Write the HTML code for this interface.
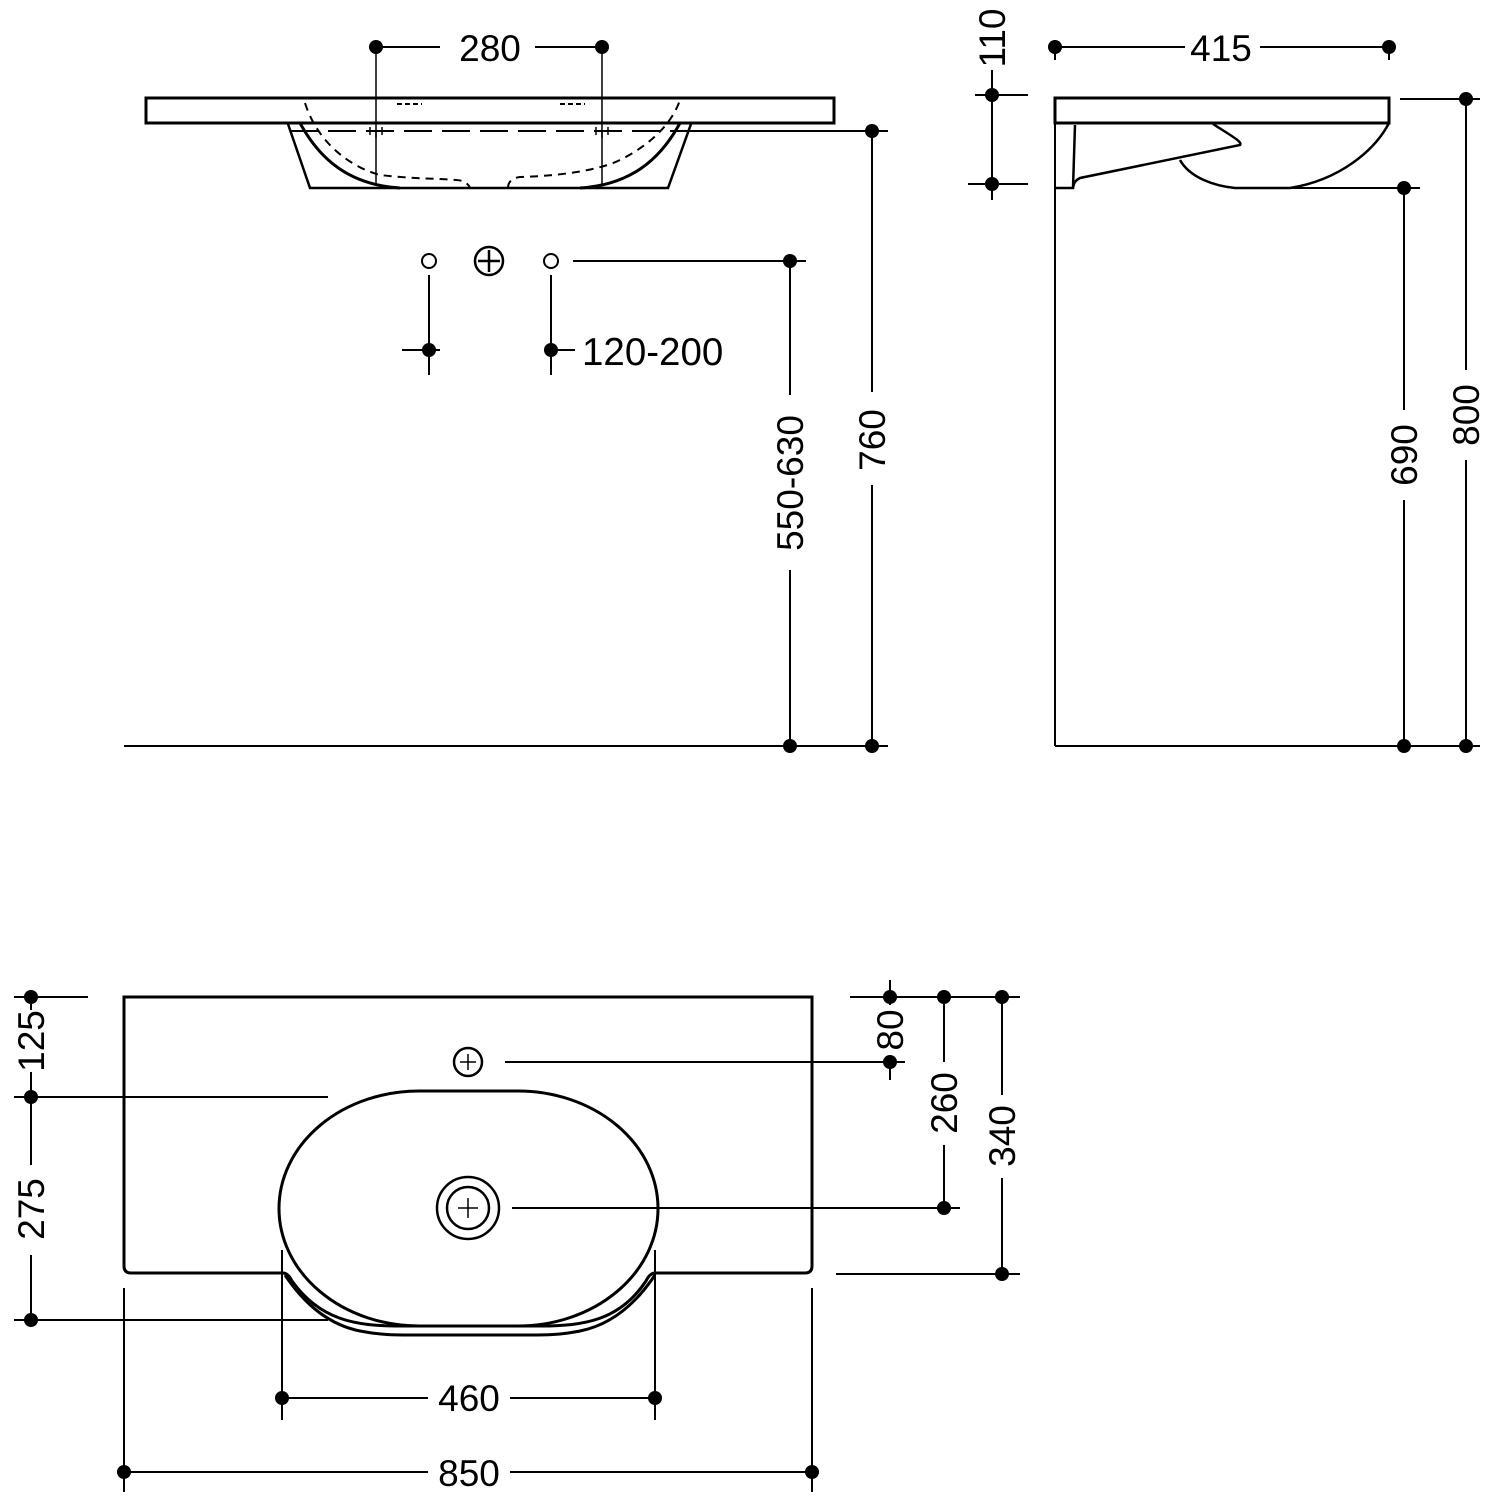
<!DOCTYPE html>
<html><head><style>html,body{margin:0;padding:0;background:#fff}svg{display:block}</style></head>
<body>
<svg width="1500" height="1500" viewBox="0 0 1500 1500" xmlns="http://www.w3.org/2000/svg" font-family="Liberation Sans, Arial, sans-serif" font-size="37" fill="none" stroke="#000">
<g stroke-width="2">
<!-- FRONT VIEW -->
<rect x="146" y="98" width="688" height="25" stroke-width="3"/>
<path d="M288 124 L310 188 L668 188 L691 124" stroke-width="2.5"/>
<path d="M300 123 C320 160 350 185 400 188 M580 188 C630 185 660 160 680 123" stroke-width="3"/>
<path d="M305 103 C320 150 360 170 380 175 C420 180 460 178 465 182 C470 186 470 188 470 188 M508 188 C508 182 512 178 520 177 C560 176 600 170 620 160 C660 140 675 115 680 100" stroke-dasharray="8,6"/>
<line x1="290" y1="131" x2="680" y2="131" stroke-dasharray="28,10"/>
<line x1="680" y1="131" x2="888" y2="131"/>
<line x1="376" y1="40" x2="376" y2="185" stroke-width="1.5"/>
<line x1="602" y1="40" x2="602" y2="185" stroke-width="1.5"/>
<path d="M370 127v8M382 127v8M370 131h12M376 131v7M596 127v8M608 127v8M596 131h12M602 131v7" stroke-width="1.5"/>
<path d="M397 104h25M560 104h25" stroke-dasharray="5,3"/>
<line x1="376" y1="47" x2="440" y2="47"/><line x1="535" y1="47" x2="602" y2="47"/>
<line x1="872" y1="131" x2="872" y2="392"/><line x1="872" y1="485" x2="872" y2="746"/>
<line x1="790" y1="261" x2="790" y2="395"/><line x1="790" y1="570" x2="790" y2="746"/>
<line x1="573" y1="261" x2="806" y2="261"/>
<circle cx="429" cy="261" r="7"/><circle cx="551" cy="261" r="7"/>
<circle cx="489" cy="261" r="14" stroke-width="2.5"/><path d="M478 261h22M489 250v22" stroke-width="2.5"/>
<line x1="429" y1="275" x2="429" y2="375"/><line x1="551" y1="275" x2="551" y2="375"/>
<line x1="402" y1="350" x2="440" y2="350"/><line x1="545" y1="350" x2="575" y2="350"/>
<line x1="124" y1="746" x2="888" y2="746"/>
<!-- SIDE VIEW -->
<rect x="1055" y="98" width="334" height="25" stroke-width="3"/>
<path d="M1055 98 L1055 746 M1055 746 L1480 746" />
<path d="M1055 188 L1073 188 L1075 125 M1073 188 C1074 182 1076 180 1080 178 L1240 145 C1243 142 1230 135 1213 124 M1180 160 C1190 178 1215 186 1235 188 L1290 188 C1340 180 1375 150 1389 123" stroke-width="2.5"/>
<line x1="1236" y1="188" x2="1420" y2="188"/>
<line x1="1055" y1="40" x2="1055" y2="60"/><line x1="1389" y1="40" x2="1389" y2="60"/>
<line x1="1055" y1="47" x2="1185" y2="47"/><line x1="1260" y1="47" x2="1389" y2="47"/>
<line x1="992" y1="70" x2="992" y2="200"/>
<line x1="975" y1="95" x2="1028" y2="95"/><line x1="968" y1="184" x2="1028" y2="184"/>
<line x1="1400" y1="99" x2="1480" y2="99"/>
<line x1="1466" y1="99" x2="1466" y2="370"/><line x1="1466" y1="460" x2="1466" y2="746"/>
<line x1="1404" y1="188" x2="1404" y2="410"/><line x1="1404" y1="500" x2="1404" y2="746"/>
<!-- PLAN VIEW -->
<path d="M124 997 L812 997 L812 1266 Q812 1273 805 1273 L655 1273 Q650 1273 646 1281 C620 1320 585 1326 540 1326 L400 1326 C355 1326 320 1320 292 1281 Q288 1273 283 1273 L131 1273 Q124 1273 124 1266 Z" stroke-width="3"/>
<rect x="279" y="1091" width="379" height="235" rx="140" ry="118" stroke-width="3"/>
<path d="M285 1275 C305 1305 330 1325 360 1331 C380 1335 395 1335 410 1335 L530 1335 C545 1335 560 1335 580 1331 C610 1325 635 1305 655 1275" stroke-width="3"/>
<circle cx="468" cy="1208" r="31" stroke-width="2.5"/><circle cx="468" cy="1208" r="21" stroke-width="2.5"/>
<path d="M458 1208h20M468 1198v20" stroke-width="1.5"/>
<circle cx="468" cy="1062" r="14" stroke-width="2.5"/><path d="M460 1062h16M468 1054v16" stroke-width="1.5"/>
<line x1="14" y1="997" x2="88" y2="997"/><line x1="14" y1="1097" x2="328" y2="1097"/><line x1="14" y1="1320" x2="328" y2="1320"/>
<line x1="31" y1="997" x2="31" y2="1010"/><line x1="31" y1="1072" x2="31" y2="1097"/>
<line x1="31" y1="1097" x2="31" y2="1165"/><line x1="31" y1="1255" x2="31" y2="1320"/>
<line x1="850" y1="997" x2="1020" y2="997"/><line x1="505" y1="1062" x2="905" y2="1062"/>
<line x1="512" y1="1208" x2="960" y2="1208"/><line x1="836" y1="1274" x2="1020" y2="1274"/>
<line x1="890" y1="980" x2="890" y2="1005"/><line x1="890" y1="1055" x2="890" y2="1080"/>
<line x1="944" y1="997" x2="944" y2="1062"/><line x1="944" y1="1145" x2="944" y2="1208"/>
<line x1="1002" y1="997" x2="1002" y2="1095"/><line x1="1002" y1="1178" x2="1002" y2="1274"/>
<line x1="282" y1="1250" x2="282" y2="1420"/><line x1="655" y1="1250" x2="655" y2="1420"/>
<line x1="282" y1="1398" x2="428" y2="1398"/><line x1="510" y1="1398" x2="655" y2="1398"/>
<line x1="124" y1="1288" x2="124" y2="1492"/><line x1="812" y1="1288" x2="812" y2="1492"/>
<line x1="124" y1="1472" x2="428" y2="1472"/><line x1="510" y1="1472" x2="812" y2="1472"/>
</g>
<g fill="#000" stroke="none">
<circle cx="376" cy="47" r="7"/><circle cx="602" cy="47" r="7"/>
<circle cx="872" cy="131" r="7"/><circle cx="872" cy="746" r="7"/>
<circle cx="790" cy="261" r="7"/><circle cx="790" cy="746" r="7"/>
<circle cx="429" cy="350" r="7"/><circle cx="551" cy="350" r="7"/>
<circle cx="1055" cy="47" r="7"/><circle cx="1389" cy="47" r="7"/>
<circle cx="992" cy="95" r="7"/><circle cx="992" cy="184" r="7"/>
<circle cx="1466" cy="99" r="7"/><circle cx="1466" cy="746" r="7"/>
<circle cx="1404" cy="188" r="7"/><circle cx="1404" cy="746" r="7"/>
<circle cx="31" cy="997" r="7"/><circle cx="31" cy="1097" r="7"/><circle cx="31" cy="1320" r="7"/>
<circle cx="890" cy="997" r="7"/><circle cx="890" cy="1062" r="7"/>
<circle cx="944" cy="997" r="7"/><circle cx="944" cy="1208" r="7"/>
<circle cx="1002" cy="997" r="7"/><circle cx="1002" cy="1274" r="7"/>
<circle cx="282" cy="1398" r="7"/><circle cx="655" cy="1398" r="7"/>
<circle cx="124" cy="1472" r="7"/><circle cx="812" cy="1472" r="7"/>
<text x="490" y="61" text-anchor="middle">280</text>
<text x="1221" y="61" text-anchor="middle">415</text>
<text x="582" y="365" font-size="38.5">120-200</text>
<text x="469" y="1411" text-anchor="middle">460</text>
<text x="469" y="1486" text-anchor="middle">850</text>
<text transform="translate(885,440) rotate(-90)" text-anchor="middle">760</text>
<text transform="translate(803,483) rotate(-90)" text-anchor="middle">550-630</text>
<text transform="translate(1005,38) rotate(-90)" text-anchor="middle">110</text>
<text transform="translate(1479,415) rotate(-90)" text-anchor="middle">800</text>
<text transform="translate(1417,455) rotate(-90)" text-anchor="middle">690</text>
<text transform="translate(44,1041) rotate(-90)" text-anchor="middle">125</text>
<text transform="translate(44,1209) rotate(-90)" text-anchor="middle">275</text>
<text transform="translate(903,1030) rotate(-90)" text-anchor="middle">80</text>
<text transform="translate(957,1103) rotate(-90)" text-anchor="middle">260</text>
<text transform="translate(1015,1136) rotate(-90)" text-anchor="middle">340</text>
</g>
</svg>
</body></html>
